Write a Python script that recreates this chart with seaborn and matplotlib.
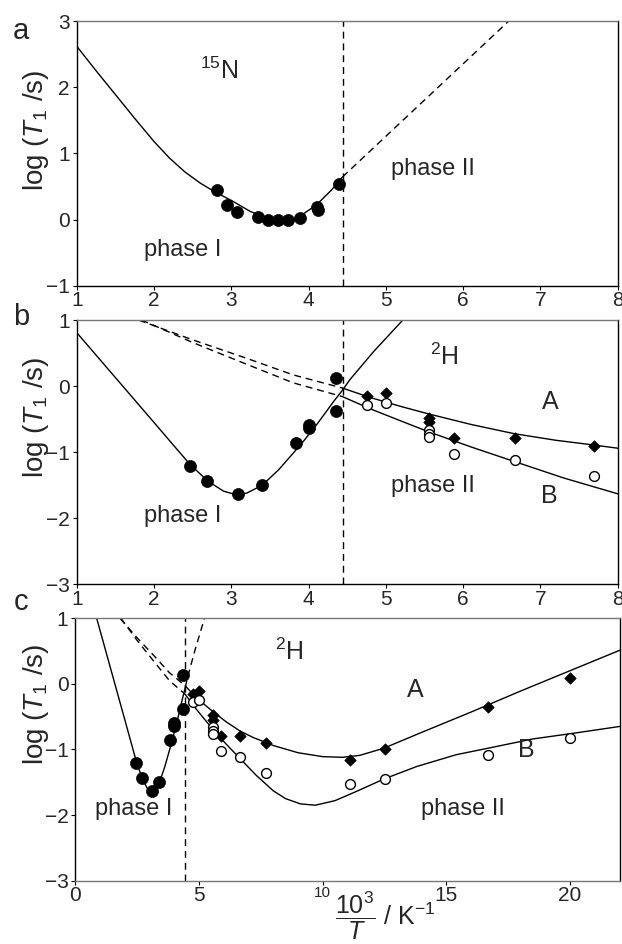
import matplotlib
matplotlib.use("Agg")
import matplotlib.pyplot as plt
import seaborn as sns
import pandas as pd

# ---------------- data ----------------
TRANSITION = 4.44  # phase transition, 10^3/T

# panel a : 15N
a_pts_x = [2.81, 2.94, 3.08, 3.34, 3.47, 3.60, 3.73, 3.89, 4.11, 4.12, 4.39]
a_pts_y = [0.44, 0.22, 0.11, 0.035, 0.0, 0.0, -0.01, 0.02, 0.19, 0.15, 0.54]
a_fit_x = [1.0, 1.25, 1.5, 1.75, 2.0, 2.2, 2.4, 2.6, 2.8, 3.0, 3.25, 3.5, 3.75, 3.9, 4.1, 4.3, 4.44]
a_fit_y = [2.62, 2.25, 1.89, 1.53, 1.18, 0.93, 0.72, 0.55, 0.41, 0.29, 0.12, 0.01, -0.01, 0.06, 0.22, 0.45, 0.645]
a_ext_x = [4.44, 6.59]
a_ext_y = [0.645, 3.0]

# panels b, c : 2H, phase I
p1_x = [2.47, 2.68, 3.09, 3.40, 3.84, 4.00, 4.00, 4.35, 4.35]
p1_y = [-1.21, -1.43, -1.63, -1.50, -0.86, -0.64, -0.59, 0.13, -0.38]
p1_fit_x = [0.86, 1.0, 1.5, 2.0, 2.3, 2.47, 2.7, 2.9, 3.05, 3.2, 3.4, 3.61, 3.91, 4.12, 4.32, 4.44]
p1_fit_y = [1.0, 0.81, 0.13, -0.55, -0.96, -1.19, -1.44, -1.59, -1.64, -1.62, -1.50, -1.27, -0.87, -0.56, -0.24, -0.06]
p1_ext_x = [4.44, 4.53, 4.84, 5.22]
p1_ext_y = [-0.06, 0.09, 0.52, 1.0]

# phase II, sites A and B
A_x = [4.76, 5.00, 5.56, 5.56, 5.88, 6.67, 7.69, 11.11, 12.50, 16.67, 20.00]
A_y = [-0.15, -0.11, -0.48, -0.55, -0.79, -0.79, -0.90, -1.16, -1.00, -0.36, 0.09]
B_x = [4.76, 5.00, 5.56, 5.56, 5.56, 5.88, 6.67, 7.69, 11.11, 12.50, 16.67, 20.00]
B_y = [-0.28, -0.25, -0.66, -0.72, -0.77, -1.03, -1.12, -1.36, -1.52, -1.45, -1.09, -0.82]

dA_x = [1.80, 2.5, 3.2, 3.8, 4.44]
dA_y = [1.0, 0.70, 0.42, 0.17, -0.03]
dB_x = [1.84, 2.5, 3.2, 3.8, 4.44]
dB_y = [1.0, 0.66, 0.33, 0.05, -0.16]

sA_x = [4.44, 4.79, 5.2, 5.55, 6.1, 6.66, 7.2, 7.68, 8.0, 9.0, 10.0, 10.8, 11.5, 12.48, 14.0, 16.0, 18.0, 20.0, 22.0]
sA_y = [-0.03, -0.17, -0.31, -0.42, -0.58, -0.72, -0.82, -0.89, -0.94, -1.05, -1.11, -1.12, -1.09, -0.98, -0.74, -0.43, -0.11, 0.20, 0.51]
sB_x = [4.44, 4.79, 5.2, 5.55, 6.1, 6.66, 7.3, 8.0, 8.5, 9.1, 9.7, 10.5, 11.3, 12.48, 13.8, 15.4, 16.7, 18.5, 20.2, 22.0]
sB_y = [-0.16, -0.34, -0.53, -0.69, -0.92, -1.14, -1.39, -1.63, -1.75, -1.83, -1.85, -1.78, -1.65, -1.45, -1.26, -1.08, -0.98, -0.84, -0.75, -0.65]

ab_xticks = [1, 2, 3, 4, 5, 6, 7, 8]
c_xticks = [0, 5, 10, 15, 20]
a_yticks = [-1, 0, 1, 2, 3]
bc_yticks = [-3, -2, -1, 0, 1]

# ---------------- style ----------------
sns.set_style("ticks")
plt.rcParams["font.family"] = ["Liberation Sans", "DejaVu Sans"]
plt.rcParams["mathtext.fontset"] = "custom"
plt.rcParams["mathtext.rm"] = "Liberation Sans"
plt.rcParams["mathtext.it"] = "Liberation Sans:italic"
plt.rcParams["mathtext.bf"] = "Liberation Sans:bold"

DASH = (0, (5, 3.5))
LW = 1.0
TXT = 17

fig = plt.figure(figsize=(6.22, 9.44), dpi=100)
ax_a = fig.add_axes([0.1233, 0.6973, 0.8698, 0.2804])
ax_b = fig.add_axes([0.1233, 0.3810, 0.8698, 0.2800])
ax_c = fig.add_axes([0.1212, 0.0671, 0.8748, 0.2780])


def line(ax, x, y, dashed=False):
    kw = dict(linestyle=DASH) if dashed else {}
    sns.lineplot(x=x, y=y, ax=ax, color="black", lw=LW, sort=False,
                 estimator=None, **kw)


def filled(ax, x, y):
    sns.scatterplot(x=x, y=y, ax=ax, marker="o", color="black", s=75,
                    edgecolor="black", linewidth=0.5, zorder=4)


def diamonds(ax, x, y):
    sns.scatterplot(x=x, y=y, ax=ax, marker="D", color="black", s=34,
                    edgecolor="black", linewidth=0.5, zorder=4)


def opens(ax, x, y):
    sns.scatterplot(x=x, y=y, ax=ax, marker="o", color="white", s=50,
                    edgecolor="black", linewidth=1.0, zorder=4)


def frame(ax, bottom_dotted=False):
    for s in ["left", "right", "bottom", "top"]:
        ax.spines[s].set_visible(True)
        ax.spines[s].set_color("black")
        ax.spines[s].set_linewidth(1.0)
    ax.spines["top"].set_linestyle((0, (1, 1)))
    ax.spines["top"].set_color("#777777")
    if bottom_dotted:
        ax.spines["bottom"].set_linestyle((0, (1, 1)))
        ax.spines["bottom"].set_color("#777777")
    ax.tick_params(axis="both", direction="out", length=3, width=0.8,
                   labelsize=15, color="black")
    ax.tick_params(axis="x", pad=1)
    ax.tick_params(axis="y", pad=2)
    ax.set_ylabel(r"log ($T_1$ /s)", fontsize=20)
    ax.set_xlabel("")


# ---- panel a ----
line(ax_a, a_fit_x, a_fit_y)
line(ax_a, a_ext_x, a_ext_y, dashed=True)
filled(ax_a, a_pts_x, a_pts_y)
ax_a.axvline(TRANSITION, color="black", lw=LW, linestyle=DASH)
ax_a.set_xlim(1, 8)
ax_a.set_ylim(-1, 3)
ax_a.set_xticks(ab_xticks)
ax_a.set_yticks(a_yticks)
frame(ax_a)
ax_a.yaxis.set_label_coords(-0.0475, 0.588)
ax_a.text(2.85, 2.12, r"$^{15}$N", fontsize=TXT + 1, ha="center", va="baseline")
ax_a.text(2.37, -0.55, "phase I", fontsize=TXT, ha="center", va="baseline")
ax_a.text(5.61, 0.67, "phase II", fontsize=TXT, ha="center", va="baseline")

# ---- panel b ----
line(ax_b, dA_x, dA_y, dashed=True)
line(ax_b, dB_x, dB_y, dashed=True)
line(ax_b, sA_x, sA_y)
line(ax_b, sB_x, sB_y)
line(ax_b, p1_fit_x, p1_fit_y)
line(ax_b, p1_ext_x, p1_ext_y)
filled(ax_b, p1_x, p1_y)
diamonds(ax_b, A_x, A_y)
opens(ax_b, B_x, B_y)
ax_b.axvline(TRANSITION, color="black", lw=LW, linestyle=DASH)
ax_b.set_xlim(1, 8)
ax_b.set_ylim(-3, 1)
ax_b.set_xticks(ab_xticks)
ax_b.set_yticks(bc_yticks)
frame(ax_b)
ax_b.yaxis.set_label_coords(-0.0475, 0.631)
ax_b.text(5.76, 0.32, r"$^{2}$H", fontsize=TXT + 1, ha="center", va="baseline")
ax_b.text(7.13, -0.35, "A", fontsize=TXT + 1, ha="center", va="baseline")
ax_b.text(7.12, -1.77, "B", fontsize=TXT + 1, ha="center", va="baseline")
ax_b.text(5.61, -1.60, "phase II", fontsize=TXT, ha="center", va="baseline")
ax_b.text(2.37, -2.05, "phase I", fontsize=TXT, ha="center", va="baseline")

# ---- panel c ----
line(ax_c, dA_x, dA_y, dashed=True)
line(ax_c, dB_x, dB_y, dashed=True)
line(ax_c, sA_x, sA_y)
line(ax_c, sB_x, sB_y)
line(ax_c, p1_fit_x, p1_fit_y)
line(ax_c, p1_ext_x, p1_ext_y, dashed=True)
filled(ax_c, p1_x, p1_y)
diamonds(ax_c, A_x, A_y)
opens(ax_c, B_x, B_y)
ax_c.axvline(TRANSITION, color="black", lw=LW, linestyle=DASH)
ax_c.set_xlim(0, 22)
ax_c.set_ylim(-3, 1)
ax_c.set_xticks(c_xticks)
ax_c.set_yticks(bc_yticks)
frame(ax_c, bottom_dotted=True)
ax_c.yaxis.set_label_coords(-0.045, 0.673)
ax_c.get_xticklabels()[2].set_fontsize(11)
ax_c.set_xlabel(r"$\dfrac{10^3}{T}$ / K$^{-1}$", fontsize=18)
ax_c.xaxis.set_label_coords(0.57, -0.036)
ax_c.text(8.63, 0.36, r"$^{2}$H", fontsize=TXT + 1, ha="center", va="baseline")
ax_c.text(13.76, -0.20, "A", fontsize=TXT + 1, ha="center", va="baseline")
ax_c.text(18.24, -1.12, "B", fontsize=TXT + 1, ha="center", va="baseline")
ax_c.text(2.36, -2.0, "phase I", fontsize=TXT, ha="center", va="baseline")
ax_c.text(15.68, -2.0, "phase II", fontsize=TXT, ha="center", va="baseline")

# panel letters
fig.text(13 / 622, 1 - 39 / 944, "a", fontsize=21, ha="left", va="baseline")
fig.text(13 / 622, 1 - 325 / 944, "b", fontsize=21, ha="left", va="baseline")
fig.text(14 / 622, 1 - 610 / 944, "c", fontsize=21, ha="left", va="baseline")

fig.savefig("out.png", dpi=100)
